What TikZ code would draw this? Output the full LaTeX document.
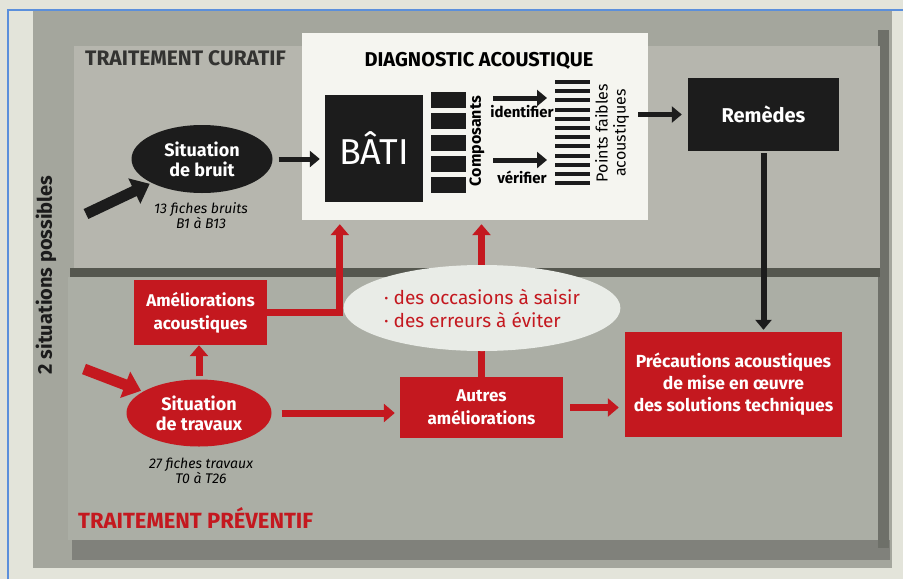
\documentclass[tikz,border=0pt]{standalone}
\usepackage{fontspec}
\setmainfont{Fira Sans}
\usepackage{tikz}
\usetikzlibrary{positioning, arrows.meta, shapes.geometric}

\definecolor{paper}{HTML}{E3E4DA}
\definecolor{framegray}{HTML}{A4A69D}
\definecolor{toppanel}{HTML}{B6B6AE}
\definecolor{lowpanel}{HTML}{ABAEA5}
\definecolor{shadowgray}{HTML}{55574F}
\definecolor{frameblue}{HTML}{5B8FDB}
\definecolor{ficheRed}{HTML}{C4181F}
\definecolor{inkblack}{HTML}{1C1C1C}
\definecolor{curgray}{HTML}{333331}
\definecolor{diagwhite}{HTML}{F5F5F0}
\definecolor{cloudwhite}{HTML}{E9ECE7}

\tikzset{
  paneltitle/.style={font=\bfseries\fontsize{21}{23}\selectfont, inner sep=0pt},
  blackbox/.style={fill=inkblack, text=white, inner sep=0pt, font=\bfseries\fontsize{20}{22}\selectfont},
  redbox/.style={fill=ficheRed, text=white, align=center, inner sep=0pt, font=\bfseries\fontsize{17.5}{22}\selectfont},
  situation/.style={ellipse, text=white, align=center, inner sep=0pt, font=\bfseries\fontsize{18}{20}\selectfont},
  note/.style={align=center, inner sep=0pt, font=\itshape\fontsize{14}{15}\selectfont},
  blackarrow/.style={inkblack, line width=5pt, -{Triangle[length=10pt, width=16pt]}},
  redarrow/.style={ficheRed, line width=7pt, -{Triangle[length=11pt, width=18pt]}},
  fatarrow/.style={line width=11pt, -{Triangle[length=17pt, width=27pt]}}
}

\begin{document}
\begin{tikzpicture}[x=1pt, y=-1pt]
    % page size
    \useasboundingbox (0,0) rectangle (903,579);

    % paper, frame and the two panels
    \fill[paper] (0,0) rectangle (903,579);
    \fill[framegray] (33,11) rectangle (892,568);
    \fill[shadowgray!75] (72,540) rectangle (890,560);
    \fill[shadowgray!85] (878,30) rectangle (889,548);
    \fill[toppanel] (74,46) rectangle (880,268);
    \fill[shadowgray] (70,268) rectangle (880,277);
    \fill[lowpanel] (68,277) rectangle (878,540);
    \draw[frameblue, line width=2pt] (8,579) -- (8,10) -- (903,10);

    % panel titles
    \node[paneltitle, text=curgray, anchor=west] (curatif) at (85,58) {TRAITEMENT CURATIF};
    \node[paneltitle, text=ficheRed, anchor=west, font=\bfseries\fontsize{22}{24}\selectfont] (preventif) at (78,518) {TRAITEMENT PRÉVENTIF};
    \node[paneltitle, text=inkblack, rotate=90, font=\bfseries\fontsize{20}{22}\selectfont] (situations) at (46,275) {2 situations possibles};

    % diagnostic box
    \node[fill=diagwhite, minimum width=346pt, minimum height=187pt] (diag) at (475,126.5) {};
    \node[font=\bfseries\fontsize{20}{22}\selectfont] (diagtitle) at (479,61) {DIAGNOSTIC ACOUSTIQUE};
    \node[blackbox, minimum width=98pt, minimum height=107pt, font=\fontsize{36}{40}\selectfont] (bati) at (374,148.5) {BÂTI};

    % component bars
    \foreach \k in {0,...,4}
        \fill[inkblack] (431,{92+21.25*\k}) rectangle +(35,16);
    \node[rotate=90, font=\bfseries\fontsize{16}{18}\selectfont] (comp) at (477,141) {Composants};

    % weak points lines
    \foreach \k in {0,...,11}
        \draw[inkblack, line width=4pt] (555,{82+9.2*\k}) -- (590,{82+9.2*\k});
    \node[rotate=90, align=center, font=\fontsize{16}{18}\selectfont] (pf) at (612,133) {Points faibles\\acoustiques};

    % identify / check
    \coordinate (id1) at (493,98);
    \coordinate (id2) at (547,98);
    \coordinate (ve1) at (493,160);
    \coordinate (ve2) at (547,160);
    \draw[blackarrow] (id1) -- (id2);
    \draw[blackarrow] (ve1) -- (ve2);
    \node[font=\bfseries\fontsize{15}{17}\selectfont] (identifier) at (522,112) {identifier};
    \node[font=\bfseries\fontsize{15}{17}\selectfont] (verifier) at (522,177) {vérifier};

    % remedies
    \node[blackbox, minimum width=151pt, minimum height=73pt] (remedes) at (763.5,114.5) {Remèdes};

    % noise situation
    \node[situation, fill=inkblack, minimum width=141pt, minimum height=68pt] (bruit) at (202,159) {Situation\\de bruit};
    \node[note] (bruitnote) at (201,216) {13 fiches bruits\\B1 à B13};

    % works situation and improvements
    \node[redbox, minimum width=133pt, minimum height=65pt, font=\bfseries\fontsize{17}{23}\selectfont] (amelio) at (200.5,312.5) {Améliorations\\acoustiques};
    \node[situation, fill=ficheRed, minimum width=145pt, minimum height=67pt] (travaux) at (199,413) {Situation\\de travaux};
    \node[note] (travauxnote) at (201,471) {27 fiches travaux\\T0 à T26};
    \node[redbox, minimum width=163pt, minimum height=61pt, font=\bfseries\fontsize{17}{23}\selectfont] (autres) at (481.5,407.5) {Autres\\améliorations};
    \node[redbox, minimum width=217pt, minimum height=105pt] (precautions) at (733.5,384.5) {Précautions acoustiques\\de mise en œuvre\\des solutions techniques};

    % entry arrows
    \coordinate (inbruit) at (86,214);
    \coordinate (intravaux) at (84,369);
    \draw[fatarrow, inkblack, shorten >=2pt] (inbruit) -- (bruit);
    \draw[fatarrow, ficheRed, shorten >=2pt] (intravaux) -- (travaux);

    % connectors
    \draw[blackarrow] ([xshift=6pt]bruit.east) -- ([xshift=-5pt]bruit.east -| bati.west);
    \draw[blackarrow, shorten >=6pt] ([xshift=-10pt]diag.east |- remedes.west) -- (remedes.west);
    \draw[blackarrow, line width=6pt, shorten <=2pt, shorten >=2pt] (remedes.south) -- (remedes.south |- precautions.north);
    \draw[redarrow, shorten <=3pt] (travaux.north) -- (travaux.north |- amelio.south);
    \draw[redarrow, shorten >=4pt] (amelio.east) -| ([xshift=38pt]diag.south west);
    \draw[redarrow, shorten >=5pt] ([xshift=10pt]travaux.east) -- (travaux.east -| autres.west);
    \draw[redarrow, shorten >=4pt] (autres.north) -- (autres.north |- diag.south);
    \draw[redarrow, shorten <=7pt, shorten >=6pt] (autres.east) -- (autres.east -| precautions.west);

    % occasions cloud, on top of the red line
    \node[ellipse, fill=cloudwhite, text=ficheRed, align=left, inner sep=0pt, minimum width=250pt, minimum height=86pt, font=\fontsize{19}{23}\selectfont] (occasions) at (482,308) {· des occasions à saisir\\· des erreurs à éviter};

\end{tikzpicture}
\end{document}
